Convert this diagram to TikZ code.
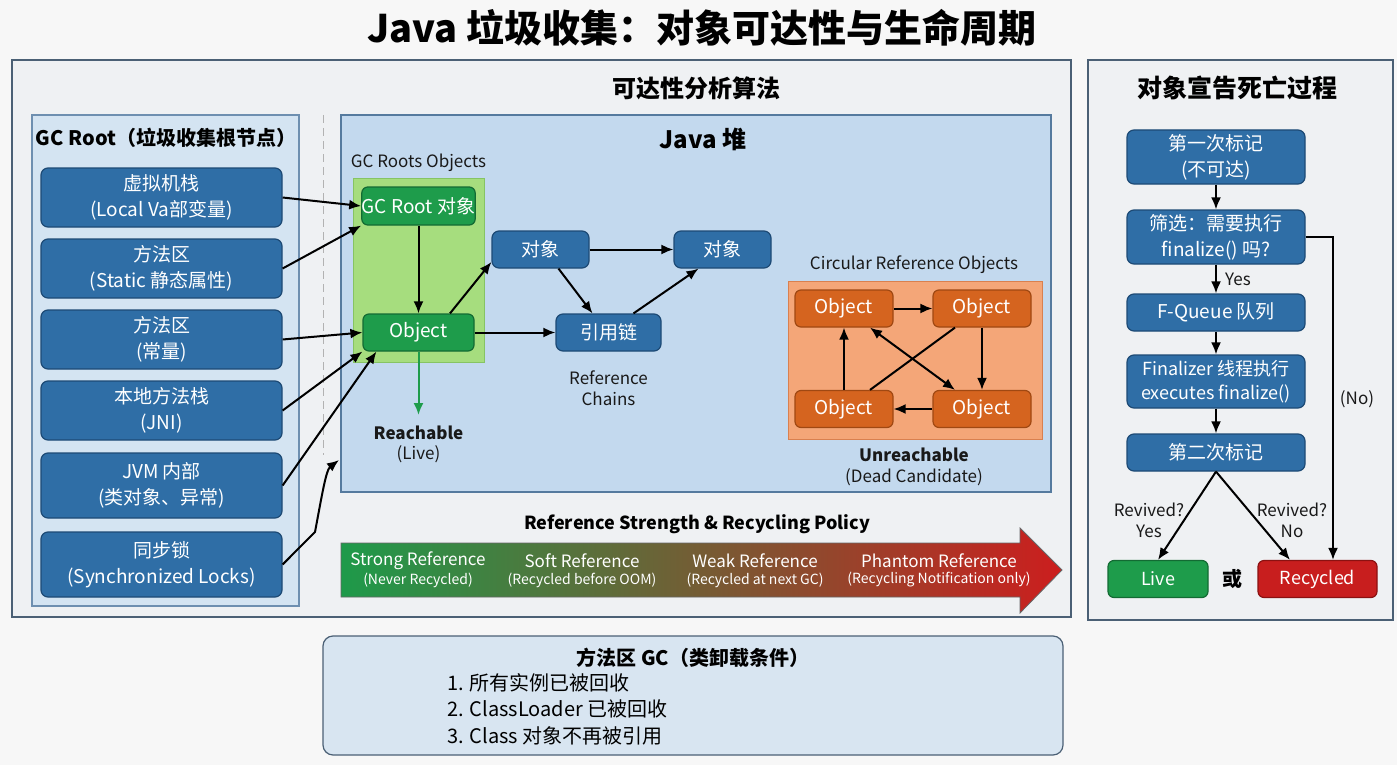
\documentclass[tikz,border=0pt]{standalone}
\usepackage{fontspec}
\setmainfont{Noto Sans CJK SC}
\usetikzlibrary{arrows.meta}
\definecolor{bgc}{HTML}{F7F7F7}
\definecolor{panelc}{HTML}{EFF1F3}
\definecolor{panelb}{HTML}{4B6075}
\definecolor{gcpc}{HTML}{D4E4F2}
\definecolor{gcpb}{HTML}{6E8FB0}
\definecolor{heapc}{HTML}{C3D9EE}
\definecolor{heapb}{HTML}{557A9E}
\definecolor{boxblue}{HTML}{2F6EA6}
\definecolor{boxblueb}{HTML}{1D4A75}
\definecolor{gboxc}{HTML}{1E9C4B}
\definecolor{gboxb}{HTML}{136B33}
\definecolor{lgreen}{HTML}{A6DD7E}
\definecolor{lgreenb}{HTML}{86C463}
\definecolor{orbg}{HTML}{F4A678}
\definecolor{orbgb}{HTML}{D9804F}
\definecolor{orbox}{HTML}{D5641F}
\definecolor{orboxb}{HTML}{A04812}
\definecolor{redc}{HTML}{C81E1E}
\definecolor{redb}{HTML}{8B1111}
\definecolor{botc}{HTML}{D8E5F1}
\definecolor{gradg}{HTML}{1E9A4A}
\definecolor{grado}{HTML}{8C8A2E}
\definecolor{gradr}{HTML}{CC1E1E}
\newcommand\myfs[2]{\fontsize{#1}{#2}\selectfont}
\tikzset{
  panel/.style={draw=panelb, fill=panelc, line width=1.3pt},
  bluebox/.style={draw=boxblueb, fill=boxblue, rounded corners=7pt, line width=1.2pt, text=white, align=center, inner sep=0pt, font=\myfs{19}{26}},
  greenbox/.style={draw=gboxb, fill=gboxc, rounded corners=6pt, line width=1.2pt, text=white, align=center, inner sep=0pt, font=\myfs{19}{26}},
  orbox/.style={draw=orboxb, fill=orbox, rounded corners=6pt, line width=1.2pt, text=white, align=center, inner sep=0pt, font=\myfs{19}{26}},
  redbox/.style={draw=redb, fill=redc, rounded corners=6pt, line width=1.2pt, text=white, align=center, inner sep=0pt, font=\myfs{18}{24}},
  lbl/.style={inner sep=0pt, align=center, text=black!90, font=\myfs{17}{21}},
  blbl/.style={inner sep=0pt, align=center, text=black!90, font=\bfseries\myfs{17}{21}},
  conn/.style={draw=black, line width=2pt, -{Latex[length=12pt,width=10pt]}},
  dconn/.style={draw=black, line width=2pt, {Latex[length=12pt,width=10pt]}-{Latex[length=12pt,width=10pt]}},
  plain/.style={draw=black, line width=2pt},
  gconn/.style={draw=gboxc, line width=2pt, -{Latex[length=12pt,width=10pt]}},
  wlbl/.style={inner sep=0pt, align=center, text=white},
}
\begin{document}
\begin{tikzpicture}[x=1pt,y=-1pt]
% background
\fill[bgc] (0,0) rectangle (1397,765);
\useasboundingbox (0,0) rectangle (1397,765);

% title
\node[inner sep=0pt, font=\bfseries\myfs{38}{44}] (title) at (702,28) {Java 垃圾收集：对象可达性与生命周期};

% outer panels
\draw[panel] (12,60) rectangle (1071,617);
\draw[panel] (1088,60) rectangle (1393,620);
\node[inner sep=0pt, font=\bfseries\myfs{24}{28}] (sec1) at (696,88) {可达性分析算法};
\node[inner sep=0pt, font=\bfseries\myfs{25}{28}] (sec2) at (1237,88) {对象宣告死亡过程};

% GC Root panel
\draw[draw=gcpb, fill=gcpc, line width=1.2pt] (32,115) rectangle (299,606);
\node[inner sep=0pt, font=\bfseries\myfs{20}{24}] (gct) at (166,138) {GC Root（垃圾收集根节点）};
\node[bluebox, minimum width=241pt, minimum height=59pt] (b1) at (161.5,197.5) {虚拟机栈\\(Local Va部变量)};
\node[bluebox, minimum width=241pt, minimum height=59pt] (b2) at (161.5,268.5) {方法区\\(Static 静态属性)};
\node[bluebox, minimum width=241pt, minimum height=59pt] (b3) at (161.5,339.5) {方法区\\(常量)};
\node[bluebox, minimum width=241pt, minimum height=59pt] (b4) at (161.5,410.5) {本地方法栈\\(JNI)};
\node[bluebox, minimum width=241pt, minimum height=65pt] (b5) at (161.5,485.5) {JVM 内部\\(类对象、异常)};
\node[bluebox, minimum width=241pt, minimum height=65pt] (b6) at (161.5,564.5) {同步锁\\(Synchronized Locks)};

% dashed separator
\draw[gray!60, dash pattern=on 8pt off 5pt, line width=1pt] (323,115) -- (323,455);

% Java heap
\draw[draw=heapb, fill=heapc, line width=1.2pt] (341,115) rectangle (1051,492);
\node[inner sep=0pt, font=\bfseries\myfs{24}{28}] (heapt) at (703,139) {Java 堆};
\node[lbl] (gcro) at (418.5,163) {GC Roots Objects};
\draw[draw=lgreenb, fill=lgreen, line width=1pt] (353,178) rectangle (484,362);
\node[greenbox, minimum width=111pt, minimum height=38pt] (gcr) at (418.5,206) {GC Root 对象};
\node[greenbox, minimum width=111pt, minimum height=37pt] (obj) at (418.5,332.5) {Object};
\node[bluebox, minimum width=97pt, minimum height=37pt] (d1) at (540.5,249.5) {对象};
\node[bluebox, minimum width=97pt, minimum height=37pt] (d2) at (722.5,249.5) {对象};
\node[bluebox, minimum width=105pt, minimum height=37pt] (chain) at (608.5,332.5) {引用链};
\node[lbl] (refch) at (608.5,388) {Reference\\Chains};
\coordinate (reachpt) at (418.5,415);
\node[blbl] (reach) at (418.5,433) {Reachable};
\node[lbl] (live1) at (418.5,454) {(Live)};

% circular references
\node[lbl] (circt) at (914,265) {Circular Reference Objects};
\draw[draw=orbgb, fill=orbg, line width=1pt] (788,281) rectangle (1042,439);
\node[orbox, minimum width=98pt, minimum height=37pt] (tl) at (844,308.5) {Object};
\node[orbox, minimum width=98pt, minimum height=37pt] (tr) at (982,308.5) {Object};
\node[orbox, minimum width=98pt, minimum height=37pt] (bl) at (844,409) {Object};
\node[orbox, minimum width=98pt, minimum height=37pt] (br) at (982,409) {Object};
\node[blbl] (unr) at (914,455) {Unreachable};
\node[lbl] (dead) at (914,477) {(Dead Candidate)};

% left connectors
\coordinate (hp) at (339,460);
\coordinate (bend) at (315,532);
\draw[conn] (b1.east) -- (gcr.west);
\draw[conn] (b2.east) -- (gcr.south west);
\draw[conn] (b3.east) -- (obj.west);
\draw[conn] (b4.east) -- (obj.south west);
\draw[conn] (b5.east) -- ([xshift=14pt]obj.south west);
\draw[conn] (b6.east) -- (bend) .. controls (322,495) and (326,470) .. (hp);

% heap connectors
\draw[conn] (gcr) -- (obj);
\draw[conn] ([xshift=31.5pt]obj.north) -- ([yshift=-12.5pt]d1.west);
\draw[conn] (d1) -- (d2);
\draw[conn] ([xshift=18pt]d1.south) -- ([xshift=-16pt]chain.north);
\draw[conn] ([xshift=25pt]chain.north) -- ([xshift=-24pt]d2.south);
\draw[conn] (obj) -- (chain);
\draw[gconn] (obj.south) -- (reachpt);

% circular connectors
\draw[conn] (tl) -- (tr);
\draw[conn] (tr) -- (br);
\draw[conn] (br) -- (bl);
\draw[conn] (bl) -- (tl);
\draw[dconn] ([xshift=26pt]tl.south) -- ([xshift=-27pt]br.north);
\draw[plain] ([xshift=-27pt]tr.south) -- ([xshift=26pt]bl.north);

% reference strength arrow
\node[inner sep=0pt, font=\bfseries\myfs{18}{22}] (polt) at (697,524) {Reference Strength \& Recycling Policy};
\shade[left color=gradg, middle color=grado, right color=gradr]
  (341,543) -- (1020,543) -- (1020,528) -- (1062,570) -- (1020,613) -- (1020,597) -- (341,597) -- cycle;
\draw[black!60, line width=0.8pt]
  (341,543) -- (1020,543) -- (1020,528) -- (1062,570) -- (1020,613) -- (1020,597) -- (341,597) -- cycle;
\node[wlbl, font=\myfs{17}{20}] (s1) at (418,561) {Strong Reference};
\node[wlbl, font=\myfs{14}{17}] (s1b) at (418,580) {(Never Recycled)};
\node[wlbl, font=\myfs{17}{20}] (s2) at (582,561) {Soft Reference};
\node[wlbl, font=\myfs{14}{17}] (s2b) at (582,580) {(Recycled before OOM)};
\node[wlbl, font=\myfs{17}{20}] (s3) at (755,561) {Weak Reference};
\node[wlbl, font=\myfs{14}{17}] (s3b) at (755,580) {(Recycled at next GC)};
\node[wlbl, font=\myfs{17}{20}] (s4) at (939,561) {Phantom Reference};
\node[wlbl, font=\myfs{14}{17}] (s4b) at (939,580) {(Recycling Notification only)};

% bottom box
\node[draw=panelb, fill=botc, rounded corners=10pt, line width=1.2pt, minimum width=740pt, minimum height=119pt, inner sep=0pt] (mgc) at (693,695.5) {};
\node[inner sep=0pt, font=\bfseries\myfs{20}{24}] (mgct) at (693,658) {方法区 GC（类卸载条件）};
\node[inner sep=0pt, anchor=west, font=\myfs{20}{24}] (m1) at (447,683) {1. 所有实例已被回收};
\node[inner sep=0pt, anchor=west, font=\myfs{20}{24}] (m2) at (447,709) {2. ClassLoader 已被回收};
\node[inner sep=0pt, anchor=west, font=\myfs{20}{24}] (m3) at (447,736) {3. Class 对象不再被引用};

% right flow
\node[bluebox, minimum width=178pt, minimum height=54pt] (r1) at (1216,157) {第一次标记\\(不可达)};
\node[bluebox, minimum width=178pt, minimum height=54pt] (r2) at (1216,237) {筛选：需要执行\\finalize() 吗?};
\node[bluebox, minimum width=178pt, minimum height=37pt] (r3) at (1216,312.5) {F-Queue 队列};
\node[bluebox, minimum width=178pt, minimum height=53pt, font=\myfs{18}{24}] (r4) at (1216,381.5) {Finalizer 线程执行\\executes finalize()};
\node[bluebox, minimum width=178pt, minimum height=37pt] (r5) at (1216,452.5) {第二次标记};
\node[greenbox, minimum width=100pt, minimum height=37pt, font=\myfs{18}{24}] (live) at (1158,579) {Live};
\node[redbox, minimum width=119pt, minimum height=37pt] (rec) at (1317.5,579) {Recycled};
\node[inner sep=0pt, font=\bfseries\myfs{20}{24}] (huo) at (1232,579) {或};

\draw[conn] (r1) -- (r2);
\draw[conn] (r2) -- (r3);
\node[lbl, anchor=west] (yes1) at (1225,279) {Yes};
\draw[conn] (r3) -- (r4);
\draw[conn] (r4) -- (r5);
\draw[conn] (r5.south) -- (live.north);
\draw[conn] (r5.south) -- ([xshift=-27.5pt]rec.north);
\draw[conn] (r2.east) -| ([xshift=15.5pt]rec.north);
\node[lbl] (nolbl) at (1357,399) {(No)};
\node[lbl] (rvy) at (1149,520) {Revived?\\Yes};
\node[lbl] (rvn) at (1292,520) {Revived?\\No};
\end{tikzpicture}
\end{document}
